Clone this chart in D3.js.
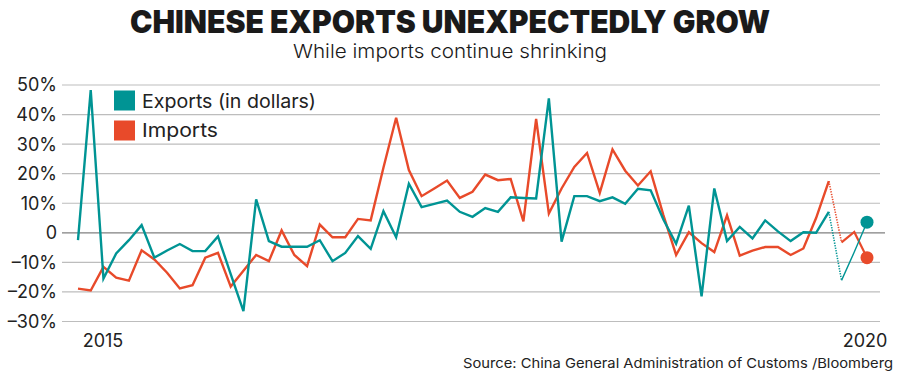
<!DOCTYPE html>
<html lang="en">
<head>
<meta charset="UTF-8">
<title>Chinese exports unexpectedly grow</title>
<script src="https://d3js.org/d3.v7.min.js"></script>
<style>
    body { margin: 0; background: #fff; }
    svg { display: block; font-family: Inter, "Noto Sans", sans-serif; }
</style>
</head>
<body>
<svg id="chart" width="900" height="377"></svg>
<script>
// months: Jan 2015 .. Dec 2019, then Jan-Feb 2020 combined, Mar 2020, Apr 2020
const years = ["2015", "2016", "2017", "2018", "2019"];
const monthNums = ["01", "02", "03", "04", "05", "06", "07", "08", "09", "10", "11", "12"];
const months = years.flatMap(y => monthNums.map(m => y + "-" + m))
    .concat(["2020-01/02", "2020-03", "2020-04"]);

// year-on-year change, %
const exportsPct = [
    -2.5, 48.3, -15.5, -7.0, -2.5, 2.6, -8.4, -6.0, -3.8, -6.2, -6.2, -1.2,
    -14.0, -26.5, 11.3, -2.8, -4.7, -4.7, -4.7, -2.5, -9.6, -6.8, -1.1, -5.4,
    7.3, -1.5, 16.6, 8.7, 9.8, 10.9, 7.1, 5.4, 8.4, 7.1, 12.0, 11.8,
    11.6, 45.5, -3.0, 12.4, 12.4, 10.7, 12.0, 9.8, 14.9, 14.4, 4.5, -3.7,
    9.2, -21.5, 15.0, -2.8, 2.0, -1.9, 4.2, 0.5, -2.8, 0.2, 0.0, 7.1,
    -16.1, -6.5, 3.6
];
const importsPct = [
    -18.9, -19.5, -11.5, -15.2, -16.2, -5.9, -9.0, -13.5, -18.8, -17.7, -8.4, -6.8,
    -18.2, -12.8, -7.5, -9.6, 0.8, -7.5, -11.3, 2.8, -1.5, -1.5, 4.7, 4.2,
    22.0, 38.9, 21.2, 12.4, 15.0, 17.7, 11.8, 13.9, 19.7, 17.8, 18.2, 3.9,
    38.5, 6.5, 15.0, 22.3, 27.0, 13.5, 28.2, 21.0, 16.0, 20.8, 6.0, -7.5,
    0.2, -3.5, -6.5, 5.9, -7.7, -6.0, -4.8, -4.8, -7.5, -5.3, 5.0, 17.5,
    -3.2, 0.3, -8.4
];
const yTicks = [-30, -20, -10, 0, 10, 20, 30, 40, 50];
const xLabels = [{ month: "2015-01", text: "2015" }, { month: "2020-04", text: "2020" }];
const seriesNames = ["Exports (in dollars)", "Imports"];

const teal = "#009494", red = "#e84a2a";
const lastSolid = months.indexOf("2019-12");

const svg = d3.select("#chart");

const x = d3.scalePoint().domain(months).range([78, 867]);
const y = d3.scaleLinear().domain([-30, 50]).range([321.5, 85]);

// titles
svg.append("text")
    .attr("x", 450).attr("y", 33)
    .attr("text-anchor", "middle")
    .attr("font-size", 31).attr("font-weight", 900)
    .attr("textLength", 640).attr("lengthAdjust", "spacingAndGlyphs")
    .attr("fill", "#1a1a1a")
    .text("CHINESE EXPORTS UNEXPECTEDLY GROW");

svg.append("text")
    .attr("x", 450).attr("y", 58)
    .attr("text-anchor", "middle")
    .attr("font-size", 19).attr("font-weight", 300)
    .attr("textLength", 314).attr("lengthAdjust", "spacingAndGlyphs")
    .attr("fill", "#1a1a1a")
    .text("While imports continue shrinking");

// grid + y labels
const grid = svg.append("g");
grid.selectAll("line")
    .data(yTicks)
    .join("line")
    .attr("x1", 62)
    .attr("x2", d => d === 0 ? 885 : 880)
    .attr("y1", d => y(d)).attr("y2", d => y(d))
    .attr("stroke", d => d === 0 ? "#808080" : "#bdbdbd")
    .attr("stroke-width", 1.2);

grid.selectAll("text")
    .data(yTicks)
    .join("text")
    .attr("x", 57)
    .attr("y", d => y(d))
    .attr("dy", "0.36em")
    .attr("text-anchor", "end")
    .attr("font-size", 18)
    .attr("fill", "#222")
    .text(d => d === 0 ? "0" : (d < 0 ? "\u2013" + Math.abs(d) : d) + "%");

// x labels
svg.append("g").selectAll("text")
    .data(xLabels)
    .join("text")
    .attr("x", d => d.text === "2015" ? x(d.month) + 25 : x(d.month) - 2)
    .attr("y", 347)
    .attr("text-anchor", "middle")
    .attr("font-size", 18)
    .attr("fill", "#222")
    .text(d => d.text);

// lines
const line = d3.line()
    .x(d => x(d.month))
    .y(d => y(d.value));

function drawSeries(values, color, tailWidth) {
    const pts = months.map((m, i) => ({ month: m, value: values[i] }));
    const g = svg.append("g");
    g.append("path")
        .datum(pts.slice(0, lastSolid + 1))
        .attr("d", line)
        .attr("fill", "none")
        .attr("stroke", color)
        .attr("stroke-width", 2.4)
        .attr("stroke-linejoin", "miter");
    g.append("path")
        .datum(pts.slice(lastSolid, lastSolid + 2))
        .attr("d", line)
        .attr("fill", "none")
        .attr("stroke", color)
        .attr("stroke-width", 1.6)
        .attr("stroke-dasharray", "1.3,1.3");
    g.append("path")
        .datum(pts.slice(lastSolid + 1))
        .attr("d", line)
        .attr("fill", "none")
        .attr("stroke", color)
        .attr("stroke-width", tailWidth);
    const last = pts[pts.length - 1];
    g.append("circle")
        .attr("cx", x(last.month))
        .attr("cy", y(last.value))
        .attr("r", 6.5)
        .attr("fill", color);
}

drawSeries(importsPct, red, 2.2);
drawSeries(exportsPct, teal, 1.4);

// legend
const legend = svg.append("g");
seriesNames.forEach((name, i) => {
    legend.append("rect")
        .attr("x", 114).attr("y", 90.5 + i * 30)
        .attr("width", 21).attr("height", 20)
        .attr("fill", i === 0 ? teal : red);
    legend.append("text")
        .attr("x", 142).attr("y", 107.5 + i * 29.5)
        .attr("font-size", 19)
        .attr("textLength", i === 0 ? 174 : 76)
        .attr("lengthAdjust", "spacingAndGlyphs")
        .attr("fill", "#222")
        .text(name);
});

// source
svg.append("text")
    .attr("x", 893).attr("y", 368)
    .attr("text-anchor", "end")
    .attr("font-size", 13.5)
    .attr("textLength", 430).attr("lengthAdjust", "spacingAndGlyphs")
    .attr("fill", "#222")
    .text("Source: China General Administration of Customs /Bloomberg");
</script>
</body>
</html>
